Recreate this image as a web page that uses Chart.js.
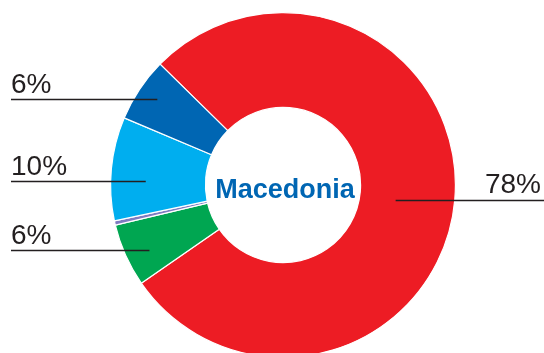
<!DOCTYPE html>
<html>
<head>
<meta charset="utf-8">
<script src="https://cdn.jsdelivr.net/npm/chart.js@4"></script>
<style>
html,body{margin:0;padding:0;background:#fff;overflow:hidden;}
#wrap{width:544px;height:360px;position:relative;}
</style>
</head>
<body>
<div id="wrap"><canvas id="c" width="544" height="360"></canvas></div>
<script>
const categories = ['Share A', 'Share B', 'Share C', 'Share D', 'Share E'];
const shares = [78, 5.9, 0.4, 9.7, 6.0];
const shareLabels = ['78%', '6%', '', '10%', '6%'];
const centerTitle = 'Macedonia';

const colors = ['#ED1C24', '#00A651', '#7F7BC0', '#00AEEF', '#0066B3'];
// leader anchor: angle shift (deg) inside the slice and radius fraction of ring
const leaderStyle = [
  {side: 'right', shift: 2.6, rf: 0.38},
  {side: 'left', shift: -2.0, rf: 0.75},
  null,
  {side: 'left', shift: -3.6, rf: 0.63},
  {side: 'left', shift: 0.8, rf: 0.79}
];

const labelPlugin = {
  id: 'labelPlugin',
  afterDatasetsDraw(chart) {
    const ctx = chart.ctx;
    const meta = chart.getDatasetMeta(0);
    const W = chart.width;
    ctx.save();
    meta.data.forEach((arc, i) => {
      const st = leaderStyle[i];
      if (!st || !shareLabels[i]) return;
      const p = arc.getProps(['x', 'y', 'startAngle', 'endAngle', 'innerRadius', 'outerRadius'], true);
      const mid = (p.startAngle + p.endAngle) / 2 + st.shift * Math.PI / 180;
      const r = p.innerRadius + st.rf * (p.outerRadius - p.innerRadius);
      const ax = p.x + Math.cos(mid) * r;
      const ay = p.y + Math.sin(mid) * r;
      const ly = Math.round(ay) + 0.5;
      ctx.strokeStyle = '#231F20';
      ctx.lineWidth = 1.3;
      ctx.beginPath();
      ctx.font = '28px "Liberation Sans", Arial, sans-serif';
      ctx.fillStyle = '#231F20';
      ctx.textBaseline = 'alphabetic';
      if (st.side === 'left') {
        ctx.moveTo(11, ly);
        ctx.lineTo(ax, ly);
        ctx.stroke();
        ctx.textAlign = 'left';
        ctx.fillText(shareLabels[i], 11, ly - 6.5);
      } else {
        ctx.moveTo(ax, ly);
        ctx.lineTo(W, ly);
        ctx.stroke();
        ctx.textAlign = 'right';
        ctx.fillText(shareLabels[i], 541, ly - 8);
      }
    });
    const a0 = meta.data[0];
    ctx.font = 'bold 27px "Liberation Sans", Arial, sans-serif';
    ctx.fillStyle = '#0066B3';
    ctx.textAlign = 'center';
    ctx.textBaseline = 'alphabetic';
    ctx.fillText(centerTitle, a0.x + 2, a0.y + 13);
    ctx.restore();
  }
};

new Chart(document.getElementById('c'), {
  type: 'doughnut',
  data: {
    labels: categories,
    datasets: [{
      data: shares,
      backgroundColor: colors,
      borderColor: '#ffffff',
      borderWidth: 1.2
    }]
  },
  options: {
    responsive: false,
    animation: false,
    events: [],
    rotation: -45.5,
    cutout: '45%',
    layout: {padding: {left: 110, right: 88, top: 12, bottom: 2}},
    plugins: {legend: {display: false}, tooltip: {enabled: false}}
  },
  plugins: [labelPlugin]
});
</script>
</body>
</html>
